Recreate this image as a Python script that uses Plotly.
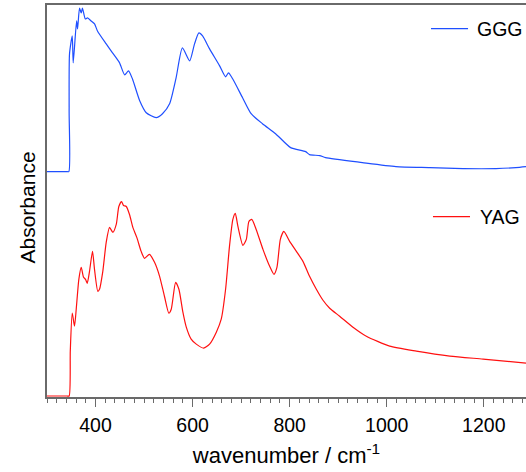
import plotly.graph_objects as go

# ---- data ----
ggg_wn = [300, 340, 345, 345.6, 346.4, 352, 354, 361, 363, 367, 370.5, 373, 379, 383.5, 391, 398, 404,
          422, 435, 449.5, 460, 468, 476, 491, 504.5, 525, 538, 552.6, 566, 579, 594, 604, 613,
          620.6, 635, 655.7, 668, 674, 682.5, 703, 720.6, 744, 771, 802, 833, 841, 862, 874,
          950, 1019, 1089, 1157, 1225, 1266, 1287]
ggg_abs = [0, 0, 0, 0.6, 1.18, 1.36, 1.09, 1.51, 1.43, 1.64, 1.59, 1.64, 1.53, 1.54, 1.51, 1.48, 1.41,
           1.28, 1.19, 1.09, 0.97, 1.01, 0.93, 0.71, 0.59, 0.54, 0.58, 0.68, 0.94, 1.24, 1.11, 1.28, 1.39,
           1.36, 1.23, 1.06, 0.95, 0.99, 0.93, 0.74, 0.58, 0.48, 0.38, 0.24, 0.20, 0.17, 0.16, 0.14,
           0.09, 0.05, 0.04, 0.03, 0.03, 0.04, 0.05]

yag_wn = [300, 341, 345.6, 348, 352, 356.7, 360.2, 365.6, 370.5, 375.3, 379.4, 382.9, 387.6, 393.8, 397.9,
          404.7, 408.2, 415, 422, 428.9, 435.7, 442.7, 448, 453.6, 457.7, 463.3, 470, 476.9, 485, 494,
          501, 511, 521.6, 532, 542, 551, 556, 565, 571.8, 580, 587, 597, 607.6, 622.7, 635, 648.9,
          659, 668, 676, 683, 688, 693.4, 703.7, 710.7, 716, 722, 731, 745, 758.8, 767.6, 773.8,
          780.8, 788, 800, 813.8, 827.4, 841, 855, 868.7, 882.5, 903, 930.5, 958, 1006, 1061, 1130,
          1198.6, 1287]
yag_abs = [0, 0, 0, 0.45, 0.83, 0.70, 0.87, 1.17, 1.29, 1.19, 1.17, 1.13, 1.25, 1.45, 1.27,
           1.05, 1.07, 1.25, 1.54, 1.69, 1.64, 1.72, 1.90, 1.95, 1.91, 1.90, 1.82, 1.69, 1.59, 1.45,
           1.38, 1.42, 1.34, 1.20, 1.00, 0.83, 0.87, 1.14, 1.07, 0.84, 0.69, 0.57, 0.52, 0.48, 0.52, 0.64,
           0.77, 1.07, 1.50, 1.77, 1.83, 1.70, 1.51, 1.57, 1.75, 1.77, 1.67, 1.47, 1.30, 1.22, 1.29,
           1.57, 1.65, 1.55, 1.45, 1.35, 1.20, 1.07, 0.96, 0.88, 0.80, 0.69, 0.60, 0.50, 0.45, 0.40,
           0.37, 0.33]

ggg_offset = 2.25  # vertical stacking offset of the GGG spectrum

x_ticks = [400, 600, 800, 1000, 1200]

series = [
    dict(name="GGG", color="#1f4fff"),
    dict(name="YAG", color="#ff1010"),
]

FONT = "Liberation Sans, Arial, sans-serif"
AX = "#6a6a6a"

fig = go.Figure()
fig.add_trace(go.Scatter(x=ggg_wn, y=[v + ggg_offset for v in ggg_abs], mode="lines", name=series[0]["name"],
                         line=dict(color=series[0]["color"], width=1.2, shape="spline", smoothing=0.6),
                         showlegend=False))
fig.add_trace(go.Scatter(x=yag_wn, y=yag_abs, mode="lines", name=series[1]["name"],
                         line=dict(color=series[1]["color"], width=1.2, shape="spline", smoothing=0.6),
                         showlegend=False))

# legend-like keys placed beside each spectrum (paper coordinates)
key_pos = [dict(x0=0.8017, x1=0.879, tx=0.8965, y=0.9395),
           dict(x0=0.8058, x1=0.8831, tx=0.901, y=0.46)]
for s, k in zip(series, key_pos):
    fig.add_shape(type="line", xref="paper", yref="paper", x0=k["x0"], x1=k["x1"], y0=k["y"], y1=k["y"],
                  line=dict(color=s["color"], width=1.2))
    fig.add_annotation(xref="paper", yref="paper", x=k["tx"], y=k["y"], xanchor="left", yanchor="middle",
                       text=s["name"], showarrow=False, borderpad=0,
                       font=dict(size=19.5, family=FONT, color="black"))

# y-axis title
fig.add_annotation(xref="paper", yref="paper", x=-0.0397, y=0.4834, xanchor="center", yanchor="middle",
                   text="Absorbance", textangle=-90, showarrow=False,
                   font=dict(size=21, family=FONT, color="black"))

fig.update_layout(
    width=526, height=472,
    margin=dict(l=47, r=0, t=5, b=75),
    paper_bgcolor="white", plot_bgcolor="white",
    font=dict(family=FONT, color="black", size=19.5),
    xaxis=dict(
        range=[300, 1287], tickvals=x_ticks, ticktext=[str(t) for t in x_ticks],
        ticks="outside", ticklen=8, tickwidth=1.2, tickcolor=AX, ticklabelstandoff=2,
        showline=True, linecolor=AX, linewidth=2, mirror=True,
        showgrid=False, zeroline=False,
        minor=dict(dtick=20, tick0=300, ticks="outside", ticklen=4, tickwidth=1.2, tickcolor=AX, showgrid=False),
        tickfont=dict(size=19.5, family=FONT),
        title=dict(text="wavenumber / cm<sup>-1</sup>", font=dict(size=22, family=FONT), standoff=12),
    ),
    yaxis=dict(
        range=[-0.01, 3.92], showticklabels=False, ticks="", showgrid=False, zeroline=False,
        showline=True, linecolor=AX, linewidth=2,
    ),
)

fig.write_html("out.html")
